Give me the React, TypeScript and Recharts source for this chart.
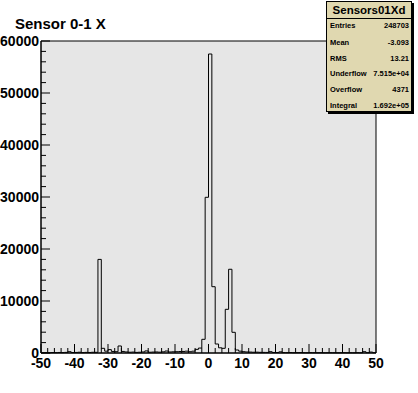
import React from 'react';
import { ComposedChart, Line, XAxis, YAxis, CartesianGrid } from 'recharts';

// bin contents, 1 unit wide bins from -50 to 50
const farLeft = [60, 80, 50, 90, 70, 100, 80, 120, 250, 90, 110, 150, 80, 120, 100, 140, 130];
const leftPeak = [18000, 900, 350, 650, 300, 250, 1350, 300];
const midLeft = [200, 150, 180, 120, 150, 200, 400, 150, 180, 200, 160, 220, 380, 200, 230, 250, 280, 300, 350, 250];
const centre = [350, 700, 950, 2630, 29940, 57500, 12750, 1730, 1000, 900, 8400, 16100, 3980, 580, 350];
const rightTail = [
  250, 200, 180, 150, 160, 130, 120, 110, 250, 100, 90, 220, 80, 70, 90, 60, 70, 80, 60, 50, 70, 60,
  50, 60, 40, 50, 60, 50, 40, 50, 60, 40, 50, 40, 60, 50, 250, 60, 180, 60,
];
const binCounts = [...farLeft, ...leftPeak, ...midLeft, ...centre, ...rightTail];

const xMajor = [-50, -40, -30, -20, -10, 0, 10, 20, 30, 40, 50];
const yMajor = [0, 10000, 20000, 30000, 40000, 50000, 60000];
const xTicks: number[] = [];
for (let v = -50; v <= 50; v += 2) xTicks.push(v);
const yTicks: number[] = [];
for (let v = 0; v <= 60000; v += 2000) yTicks.push(v);

const statsRows = [
  ['Entries', '248703'],
  ['Mean', '-3.093'],
  ['RMS', '13.21'],
  ['Underflow', '7.515e+04'],
  ['Overflow', '4371'],
  ['Integral', '1.692e+05'],
];

const data = binCounts.map((c, i) => ({ x: -50 + i, y: c }));
data.push({ x: 50, y: binCounts[binCounts.length - 1] });

const font = '"Liberation Sans", Arial, Helvetica, sans-serif';

const XTick = (props: any) => {
  const { x, y, payload } = props;
  const major = xMajor.includes(payload.value);
  return (
    <g>
      <line x1={x} x2={x} y1={y} y2={y - (major ? 9 : 5)} stroke="#000" />
      {major && (
        <text x={x} y={y + 15} textAnchor="middle" fontSize={14} fontWeight="bold" fontFamily={font} fill="#000">
          {payload.value}
        </text>
      )}
    </g>
  );
};

const YTick = (props: any) => {
  const { x, y, payload } = props;
  const major = yMajor.includes(payload.value);
  return (
    <g>
      <line x1={x} x2={x + (major ? 9 : 5)} y1={y} y2={y} stroke="#000" />
      {major && (
        <text x={x - 2} y={y + 5} textAnchor="end" fontSize={14} fontWeight="bold" fontFamily={font} fill="#000">
          {payload.value}
        </text>
      )}
    </g>
  );
};

export default function App() {
  return (
    <div style={{ position: 'absolute', left: 0, top: 0, width: 418, height: 393, background: '#fff' }}>
      <ComposedChart width={418} height={393} data={data} margin={{ top: 41, right: 42, left: 0, bottom: 0 }}>
        <CartesianGrid fill="#e6e6e6" stroke="#000" horizontalPoints={[41, 353]} verticalPoints={[41, 376]} />
        <XAxis
          dataKey="x"
          type="number"
          domain={[-50, 50]}
          ticks={xTicks}
          interval={0}
          height={40}
          tickSize={0}
          tickMargin={0}
          tickLine={false}
          axisLine={{ stroke: '#000' }}
          tick={<XTick />}
        />
        <YAxis
          type="number"
          domain={[0, 60000]}
          ticks={yTicks}
          interval={0}
          width={41}
          tickSize={0}
          tickMargin={0}
          tickLine={false}
          axisLine={{ stroke: '#000' }}
          tick={<YTick />}
        />
        <Line type="stepAfter" dataKey="y" stroke="#000" strokeWidth={1} dot={false} isAnimationActive={false} />
      </ComposedChart>
      <svg width={418} height={393} style={{ position: 'absolute', left: 0, top: 0 }}>
        <text x={15} y={29} fontSize={15} fontWeight="bold" fontFamily={font} fill="#000">
          Sensor 0-1 X
        </text>
        <rect x={328} y={3} width={86} height={111} fill="#000" />
        <rect x={326.5} y={1.5} width={85} height={110} fill="#e0d8b0" stroke="#000" />
        <text x={369} y={14} textAnchor="middle" fontSize={11.5} fontWeight="bold" fontFamily={font} fill="#000">
          Sensors01Xd
        </text>
        <line x1={326} x2={412} y1={18.5} y2={18.5} stroke="#000" />
        {statsRows.map(([k, v], i) => {
          const cy = [25, 42, 58, 73, 89, 105][i];
          return (
            <g key={k}>
              <text x={330} y={cy + 3} fontSize={7.5} fontWeight="bold" fontFamily={font} fill="#000">
                {k}
              </text>
              <text x={409} y={cy + 3} textAnchor="end" fontSize={7.5} fontWeight="bold" fontFamily={font} fill="#000">
                {v}
              </text>
            </g>
          );
        })}
      </svg>
    </div>
  );
}
